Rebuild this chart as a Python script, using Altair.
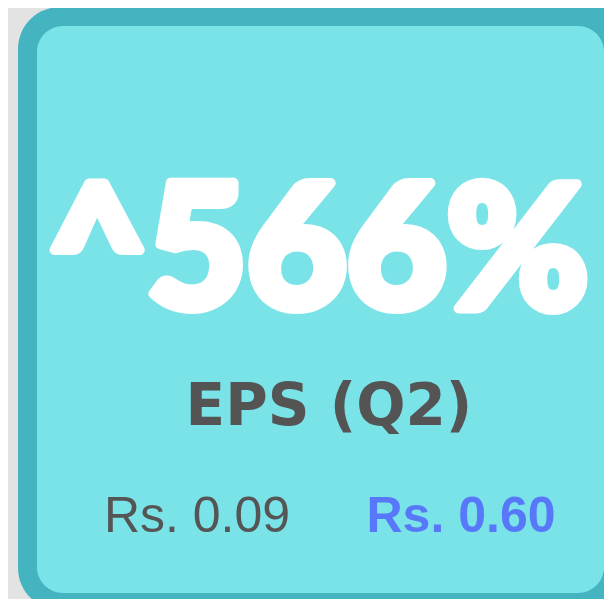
import altair as alt
import pandas as pd

# ---- content ----
headline = ["^566%"]
metric = ["EPS (Q2)"]
eps_labels = ["Rs. 0.09", "Rs. 0.60"]

W, H = 596, 591

base = alt.Chart(pd.DataFrame({"headline": headline, "metric": metric,
                               "prev": [eps_labels[0]], "curr": [eps_labels[1]]}))

outer = base.mark_rect(color="#44b5c0", cornerRadius=42).encode(
    x=alt.value(10), x2=alt.value(640), y=alt.value(-1), y2=alt.value(602))
inner = base.mark_rect(color="#7ae3e8", cornerRadius=26).encode(
    x=alt.value(29), x2=alt.value(596), y=alt.value(18), y2=alt.value(585))

big = base.mark_text(font="Lato", fontWeight=900, fontSize=172, color="white",
                     stroke="white", strokeWidth=10, strokeJoin="round",
                     align="center", baseline="alphabetic").encode(
    text="headline:N", x=alt.value(310), y=alt.value(300))
eps = base.mark_text(font="DejaVu Sans", fontWeight="bold", fontSize=58, color="#545454",
                     align="center", baseline="alphabetic").encode(
    text="metric:N", x=alt.value(321), y=alt.value(417))
prev = base.mark_text(font="Liberation Sans", fontSize=50, color="#555555",
                      align="center", baseline="alphabetic").encode(
    text="prev:N", x=alt.value(189), y=alt.value(524))
curr = base.mark_text(font="Liberation Sans", fontWeight="bold", fontSize=50, color="#5878fa",
                      align="center", baseline="alphabetic").encode(
    text="curr:N", x=alt.value(453), y=alt.value(524))

chart = alt.layer(outer, inner, big, eps, prev, curr).properties(
    width=W, height=H, padding=0, autosize=alt.AutoSizeParams(type="none"),
    background="#e3e3e3"
).configure_view(stroke=None, clip=False)

chart.save("out.html", embed_options={"renderer": "svg", "actions": False})
